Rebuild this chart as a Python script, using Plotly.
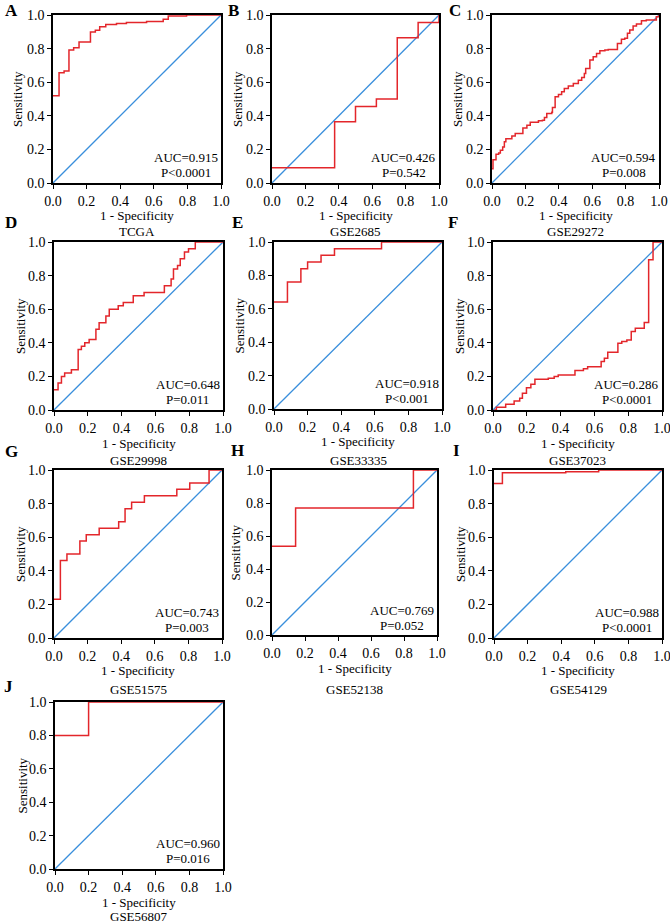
import plotly.graph_objects as go

# ---------------- data ----------------
panel_letters = ["A", "B", "C", "D", "E", "F", "G", "H", "I", "J"]
dataset_names = ["TCGA", "GSE2685", "GSE29272", "GSE29998", "GSE33335",
                 "GSE37023", "GSE51575", "GSE52138", "GSE54129", "GSE56807"]
auc_labels = ["AUC=0.915", "AUC=0.426", "AUC=0.594", "AUC=0.648", "AUC=0.918",
              "AUC=0.286", "AUC=0.743", "AUC=0.769", "AUC=0.988", "AUC=0.960"]
p_labels = ["P<0.0001", "P=0.542", "P=0.008", "P=0.011", "P<0.001",
            "P<0.0001", "P=0.003", "P=0.052", "P<0.0001", "P=0.016"]

tick_vals = [0.0, 0.2, 0.4, 0.6, 0.8, 1.0]
tick_text = ["0.0", "0.2", "0.4", "0.6", "0.8", "1.0"]
ref_x = [0.0, 1.0]
ref_y = [0.0, 1.0]

fpr_A = [0, 0.036, 0.066, 0.095, 0.123, 0.155, 0.223, 0.252, 0.278, 0.314,
         0.378, 0.437, 0.557, 0.656, 0.686, 0.795, 1.0]
tpr_A = [0.52, 0.656, 0.666, 0.791, 0.805, 0.839, 0.899, 0.909, 0.93, 0.944,
         0.95, 0.956, 0.962, 0.974, 0.994, 1.0, 1.0]

fpr_B = [0, 0.375, 0.5, 0.625, 0.75, 0.875, 1.0, 1.0]
tpr_B = [0.091, 0.364, 0.455, 0.5, 0.864, 0.955, 0.955, 1.0]

fpr_C = [0, 0.006, 0.024, 0.040, 0.050, 0.064, 0.074, 0.083, 0.109, 0.119,
         0.139, 0.185, 0.209, 0.229, 0.258, 0.278, 0.302, 0.314, 0.328, 0.358,
         0.362, 0.378, 0.398, 0.417, 0.433, 0.457, 0.487, 0.517, 0.537, 0.553,
         0.561, 0.581, 0.586, 0.606, 0.626, 0.646, 0.676, 0.696, 0.736, 0.751,
         0.775, 0.795, 0.811, 0.825, 0.845, 0.865, 0.895, 0.924, 0.964, 0.984, 1.0]
tpr_C = [0.085, 0.139, 0.171, 0.179, 0.195, 0.215, 0.245, 0.264, 0.264, 0.280,
         0.294, 0.328, 0.344, 0.362, 0.362, 0.370, 0.374, 0.390, 0.414, 0.421,
         0.449, 0.513, 0.527, 0.543, 0.563, 0.577, 0.592, 0.612, 0.628, 0.652,
         0.682, 0.682, 0.732, 0.751, 0.771, 0.787, 0.791, 0.795, 0.795, 0.831,
         0.855, 0.861, 0.891, 0.911, 0.934, 0.946, 0.966, 0.970, 0.970, 0.990, 1.0]

fpr_D = [0, 0.024, 0.044, 0.063, 0.103, 0.143, 0.162, 0.182, 0.208, 0.248,
         0.267, 0.307, 0.327, 0.380, 0.410, 0.469, 0.533, 0.653, 0.693, 0.707,
         0.731, 0.747, 0.772, 0.796, 0.836, 1.0]
tpr_D = [0.12, 0.16, 0.20, 0.22, 0.24, 0.36, 0.38, 0.40, 0.42, 0.48,
         0.52, 0.56, 0.60, 0.62, 0.64, 0.68, 0.70, 0.74, 0.78, 0.84,
         0.86, 0.90, 0.94, 0.96, 1.0, 1.0]

fpr_E = [0, 0.08, 0.16, 0.20, 0.28, 0.36, 0.64, 1.0]
tpr_E = [0.64, 0.76, 0.84, 0.88, 0.92, 0.96, 1.0, 1.0]

fpr_F = [0.006, 0.02, 0.075, 0.125, 0.158, 0.174, 0.198, 0.224, 0.248, 0.327, 0.362,
         0.386, 0.485, 0.535, 0.560, 0.640, 0.659, 0.679, 0.739, 0.762, 0.792,
         0.818, 0.842, 0.895, 0.921, 0.947, 1.0]
tpr_F = [0, 0.016, 0.034, 0.054, 0.07, 0.10, 0.133, 0.153, 0.183, 0.189, 0.199,
         0.209, 0.235, 0.245, 0.258, 0.288, 0.308, 0.344, 0.398, 0.408, 0.417,
         0.467, 0.487, 0.521, 0.895, 1.0, 1.0]

fpr_G = [0, 0.038, 0.077, 0.154, 0.192, 0.269, 0.385, 0.423, 0.462, 0.538,
         0.731, 0.808, 0.923, 1.0]
tpr_G = [0.231, 0.462, 0.5, 0.577, 0.615, 0.654, 0.692, 0.769, 0.808, 0.846,
         0.885, 0.923, 1.0, 1.0]

fpr_H = [0, 0.143, 0.857, 1.0]
tpr_H = [0.538, 0.769, 1.0, 1.0]

fpr_I = [0, 0.05, 0.427, 0.623, 1.0]
tpr_I = [0.92, 0.984, 0.99, 1.0, 1.0]

fpr_J = [0, 0.2, 1.0]
tpr_J = [0.8, 1.0, 1.0]

fpr_list = [fpr_A, fpr_B, fpr_C, fpr_D, fpr_E, fpr_F, fpr_G, fpr_H, fpr_I, fpr_J]
tpr_list = [tpr_A, tpr_B, tpr_C, tpr_D, tpr_E, tpr_F, tpr_G, tpr_H, tpr_I, tpr_J]

# ---------------- layout (pixels) ----------------
W, H = 670, 924
# plot boxes: x0, x1, y0(top), y1(bottom)
boxes = [(53, 221, 15, 183), (272, 439, 15, 183), (492, 659, 15, 183),
         (54, 223, 242, 410), (274, 442, 242, 409), (493, 662, 242, 410),
         (54, 222, 470, 638), (272, 437, 470, 635), (494, 662, 470, 638),
         (55, 223, 702, 869)]
letter_pos = [(11, 10), (233, 10), (455, 10), (11, 223), (237, 223), (453, 223),
              (11, 451), (237, 450), (456, 450), (8, 686)]
ylabel_x = [18, 238, 458, 20, 239, 459, 20, 235, 460, 22]
xtitle_y = [215, 215, 215, 443, 442, 443, 670, 668, 670, 902]
subtitle_y = [232, 232, 232, 460, 460, 460, 689, 689, 689, 916]

RED = "#e3262b"
BLUE = "#3a8fdc"
FONT = "'Liberation Serif', 'Times New Roman', Times, serif"


def px(x):
    return x / W


def py(y):
    return 1 - y / H


fig = go.Figure()
annotations = []
layout_axes = {}

for i in range(10):
    n = i + 1
    xa = "x" if n == 1 else f"x{n}"
    ya = "y" if n == 1 else f"y{n}"
    x0, x1, y0, y1 = boxes[i]

    fig.add_trace(go.Scatter(x=ref_x, y=ref_y, mode="lines",
                             line=dict(color=BLUE, width=1.3),
                             xaxis=xa, yaxis=ya, showlegend=False,
                             hoverinfo="skip"))
    fig.add_trace(go.Scatter(x=fpr_list[i], y=tpr_list[i], mode="lines",
                             line=dict(color=RED, width=1.5, shape="hv"),
                             xaxis=xa, yaxis=ya, showlegend=False))

    axis_common = dict(range=[0, 1], tickvals=tick_vals, ticktext=tick_text,
                       showgrid=False, zeroline=False, showline=True,
                       linecolor="black", linewidth=1.5, mirror=True,
                       ticks="outside", ticklen=4, tickwidth=1, tickcolor="black",
                       tickfont=dict(family=FONT, size=14, color="black"),
                       ticklabeloverflow="allow",
                       automargin=False, fixedrange=True)
    layout_axes[f"xaxis{n}" if n > 1 else "xaxis"] = dict(
        axis_common, domain=[px(x0), px(x1)], anchor=ya)
    layout_axes[f"yaxis{n}" if n > 1 else "yaxis"] = dict(
        axis_common, domain=[py(y1), py(y0)], anchor=xa)

    cx = (x0 + x1) / 2
    cy = (y0 + y1) / 2
    annotations.append(dict(x=px(letter_pos[i][0]), y=py(letter_pos[i][1]),
                            xref="paper", yref="paper",
                            text=f"<b>{panel_letters[i]}</b>",
                            showarrow=False, xanchor="center", yanchor="middle",
                            font=dict(family=FONT, size=17, color="black")))
    annotations.append(dict(x=px(ylabel_x[i]), y=py(cy), xref="paper", yref="paper",
                            text="Sensitivity", textangle=-90, showarrow=False,
                            xanchor="center", yanchor="middle",
                            font=dict(family=FONT, size=13, color="black")))
    annotations.append(dict(x=px(cx), y=py(xtitle_y[i]), xref="paper", yref="paper",
                            text="1 - Specificity", showarrow=False,
                            xanchor="center", yanchor="middle",
                            font=dict(family=FONT, size=13, color="black")))
    annotations.append(dict(x=px(cx), y=py(subtitle_y[i]), xref="paper", yref="paper",
                            text=dataset_names[i], showarrow=False,
                            xanchor="center", yanchor="middle",
                            font=dict(family=FONT, size=13, color="black")))
    annotations.append(dict(x=0.79, y=0.15, xref=xa, yref=ya, text=auc_labels[i],
                            showarrow=False, xanchor="center", yanchor="middle",
                            font=dict(family=FONT, size=13, color="black")))
    annotations.append(dict(x=0.79, y=0.06, xref=xa, yref=ya, text=p_labels[i],
                            showarrow=False, xanchor="center", yanchor="middle",
                            font=dict(family=FONT, size=13, color="black")))

fig.update_layout(width=W, height=H,
                  margin=dict(l=0, r=0, t=0, b=0, pad=0, autoexpand=False),
                  paper_bgcolor="white", plot_bgcolor="white",
                  annotations=annotations, showlegend=False, **layout_axes)

fig.write_html("out.html", config={"displayModeBar": False},
               post_script="document.body.style.margin='0';"
                           "document.body.style.padding='0';"
                           "document.documentElement.style.margin='0';")
